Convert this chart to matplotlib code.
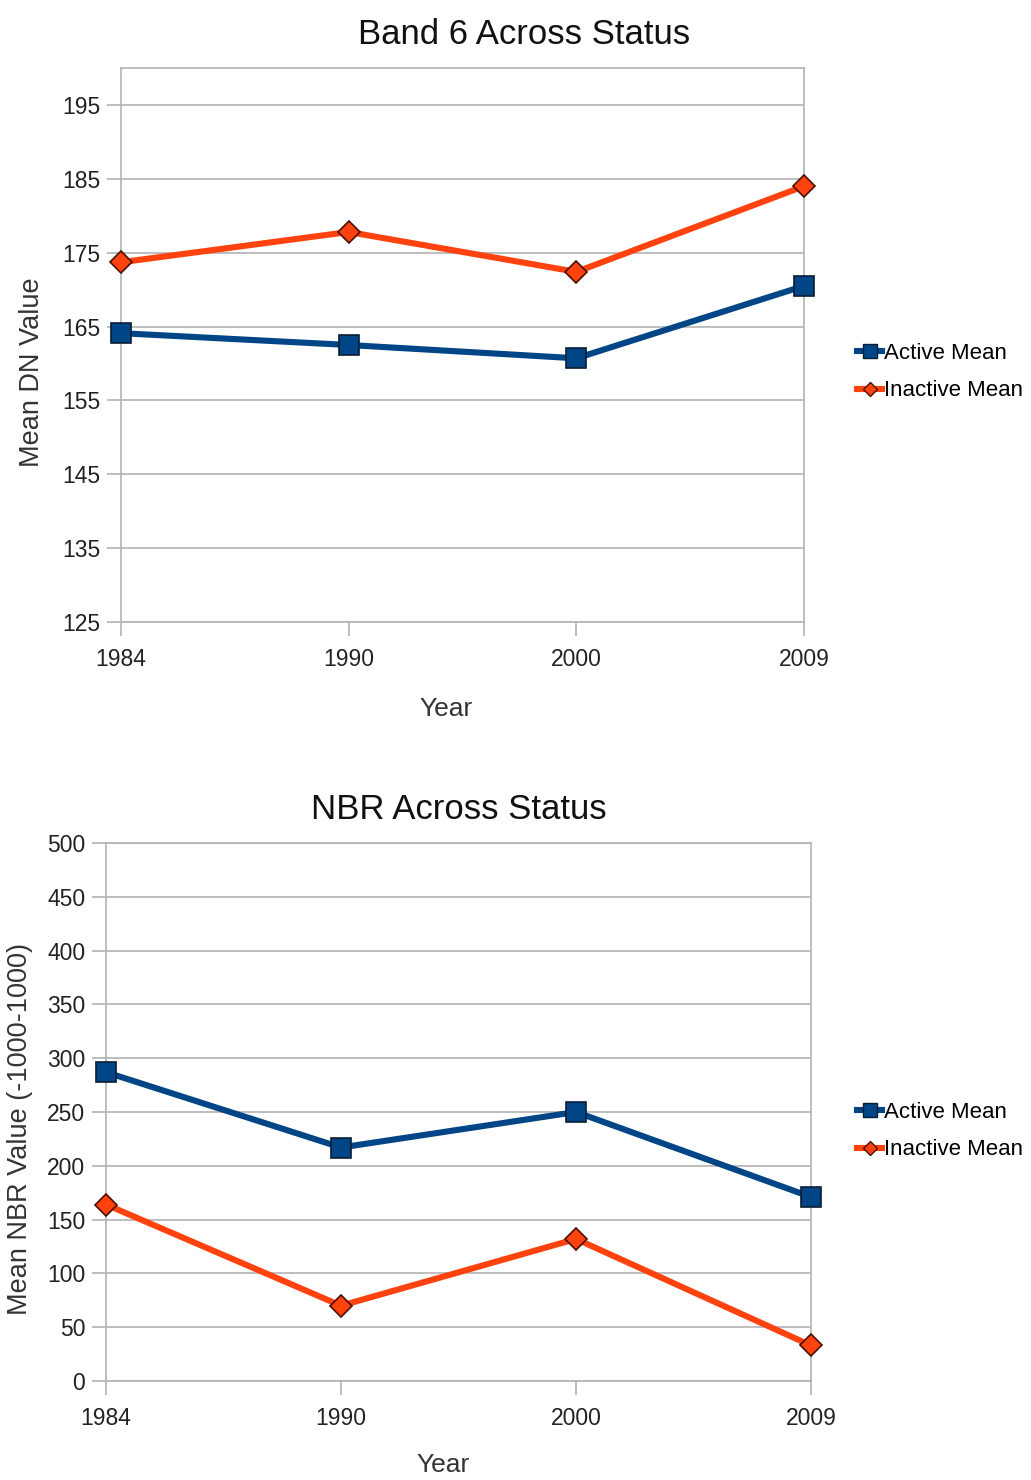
import matplotlib
matplotlib.use("Agg")
import matplotlib.pyplot as plt
from matplotlib.lines import Line2D

plt.rcParams['font.family'] = ['Liberation Sans', 'DejaVu Sans']

years = ["1984", "1990", "2000", "2009"]
band6_active = [164.1, 162.5, 160.7, 170.5]
band6_inactive = [173.7, 177.8, 172.4, 184.0]
nbr_active = [287, 217, 250, 171]
nbr_inactive = [164, 70, 132, 33]

band6_ticks = [125, 135, 145, 155, 165, 175, 185, 195]
nbr_ticks = list(range(0, 501, 50))

BLUE = "#004586"
ORANGE = "#ff420e"
GRID = "#b3b3b3"

fig = plt.figure(figsize=(10.31, 14.8), dpi=100)
ax1 = fig.add_axes([121/1031, 1-622/1480, (804-121)/1031, (622-68)/1480])
ax2 = fig.add_axes([106/1031, 1-1381/1480, (811-106)/1031, (1381-843)/1480])

def style(ax, title, title_x, ylabel, ylabel_y, xlabel_xy, ylim, yticks,
          active, inactive, leg_y, ylabel_pad):
    x = list(range(len(years)))
    ax.plot(x, active, color=BLUE, lw=4.4, marker='s', ms=15,
            mfc=BLUE, mec="#0a1e33", mew=1.2, zorder=3, clip_on=False)
    ax.plot(x, inactive, color=ORANGE, lw=4.4, marker='D', ms=11.5,
            mfc=ORANGE, mec="#4a1000", mew=1.2, zorder=3, clip_on=False)
    ax.set_xlim(0, len(years) - 1)
    ax.set_ylim(*ylim)
    ax.set_xticks(x)
    ax.set_xticklabels(years)
    ax.set_yticks(yticks)
    ax.grid(axis='y', color=GRID, lw=1.2)
    ax.set_axisbelow(True)
    for s in ax.spines.values():
        s.set_color(GRID)
        s.set_linewidth(1.2)
    ax.tick_params(axis='both', colors=GRID, length=10, width=1.2,
                   labelcolor="#222222", labelsize=16.5)
    ax.tick_params(axis='x', pad=9)
    ax.tick_params(axis='y', pad=5)
    ax.set_title(title, fontsize=25, pad=17, color="#111111", x=title_x)
    ax.set_xlabel("Year", fontsize=19, color="#333333")
    ax.xaxis.set_label_coords(*xlabel_xy)
    ax.set_ylabel(ylabel, fontsize=19.5, color="#333333", labelpad=ylabel_pad)
    ax.yaxis.label.set_y(ylabel_y)
    handles = [Line2D([], [], color=BLUE, lw=4.4, marker='s', ms=10, mfc=BLUE, mec="#0a1e33"),
               Line2D([], [], color=ORANGE, lw=4.4, marker='D', ms=7.5, mfc=ORANGE, mec="#4a1000")]
    fig.legend(handles, ["Active Mean", "Inactive Mean"], loc='center left',
               bbox_to_anchor=(0.823, leg_y), frameon=False, fontsize=16,
               handlelength=1.1, handletextpad=0.1, labelspacing=0.75,
               borderaxespad=0)

style(ax1, "Band 6 Across Status", 0.59, "Mean DN Value", 0.451, (0.476, -0.135),
      (125, 200), band6_ticks, band6_active, band6_inactive, 1-372/1480, 12)
style(ax2, "NBR Across Status", 0.50, "Mean NBR Value (-1000-1000)", 0.468, (0.478, -0.134),
      (0, 500), nbr_ticks, nbr_active, nbr_inactive, 1-1131/1480, 10)

fig.savefig("out.png", dpi=100, facecolor="white")
